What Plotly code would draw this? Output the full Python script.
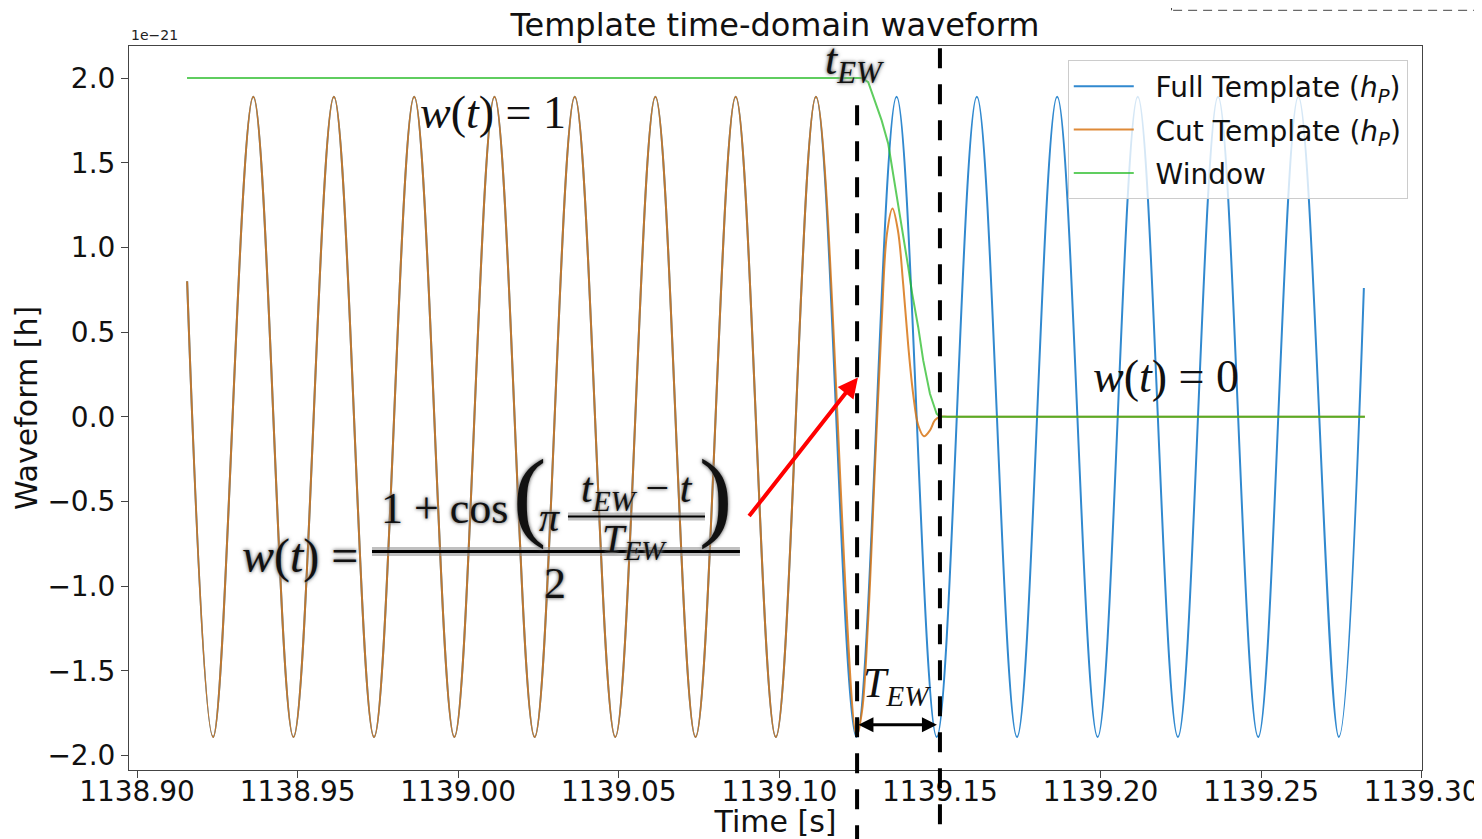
import plotly.graph_objects as go

# ---------------- data (values in units of 1e-21) ----------------
full_t = [1138.9156, 1138.9237, 1138.9362, 1138.9487, 1138.9613, 1138.9738, 1138.9863,
          1138.9988, 1139.0113, 1139.0238, 1139.0363, 1139.0489, 1139.0614, 1139.0739,
          1139.0864, 1139.0989, 1139.1114, 1139.1240, 1139.1365, 1139.1490, 1139.1615,
          1139.1740, 1139.1865, 1139.1991, 1139.2116, 1139.2241, 1139.2366, 1139.2491,
          1139.2616, 1139.2742, 1139.2820]
full_h = [0.80, -1.89, 1.89, -1.89, 1.89, -1.89, 1.89, -1.89, 1.89, -1.89, 1.89, -1.89,
          1.89, -1.89, 1.89, -1.89, 1.89, -1.89, 1.89, -1.89, 1.89, -1.89, 1.89, -1.89,
          1.89, -1.89, 1.89, -1.89, 1.89, -1.89, 0.76]

cut_t = [1138.9156, 1138.9237, 1138.9362, 1138.9487, 1138.9613, 1138.9738, 1138.9863,
         1138.9988, 1139.0113, 1139.0238, 1139.0363, 1139.0489, 1139.0614, 1139.0739,
         1139.0864, 1139.0989, 1139.1114, 1139.1240,
         1139.12572, 1139.12768, 1139.12976, 1139.13185, 1139.13350, 1139.13521,
         1139.13692, 1139.13857, 1139.14013, 1139.14169, 1139.14324, 1139.14502,
         1139.14689, 1139.14844, 1139.15000, 1139.15311, 1139.28232]
cut_h = [0.80, -1.89, 1.89, -1.89, 1.89, -1.89, 1.89, -1.89, 1.89, -1.89, 1.89, -1.89,
         1.89, -1.89, 1.89, -1.89, 1.89, -1.88,
         -1.74, -1.19, -0.30, 0.55, 1.08, 1.23,
         1.10, 0.78, 0.42, 0.13, -0.05, -0.115,
         -0.08, -0.02, 0.0, 0.0, 0.0]

win_t = [1138.91557, 1139.12572, 1139.12768, 1139.12976, 1139.13185, 1139.13390,
         1139.13599, 1139.13808, 1139.14013, 1139.14137, 1139.14324, 1139.14480,
         1139.14689, 1139.14897, 1139.15000, 1139.28232]
win_v = [2.0, 2.0, 1.976, 1.868, 1.750, 1.612, 1.376, 1.120, 0.884, 0.726, 0.529,
         0.333, 0.136, 0.018, 0.0, 0.0]

t_ew = 1139.1242      # dashed marker (start of window)
t_end = 1139.1500     # dashed marker (end of window)

x_ticks = [1138.90, 1138.95, 1139.00, 1139.05, 1139.10, 1139.15, 1139.20, 1139.25, 1139.30]
x_tick_text = ["1138.90", "1138.95", "1139.00", "1139.05", "1139.10", "1139.15",
               "1139.20", "1139.25", "1139.30"]
y_ticks = [-2.0, -1.5, -1.0, -0.5, 0.0, 0.5, 1.0, 1.5, 2.0]
y_tick_text = ["\u22122.0", "\u22121.5", "\u22121.0", "\u22120.5", "0.0", "0.5", "1.0", "1.5", "2.0"]

# ---------------- figure ----------------
SANS = "DejaVu Sans"
SERIF = "Liberation Serif"
GLOW = "0px 0px 4px #7a7a7a, 0px 0px 3px #9a9a9a"
GAP = "\u2002\u200a"

fig = go.Figure()
fig.add_trace(go.Scatter(x=full_t, y=full_h, mode="lines", line=dict(color="#3189cf", width=2, shape="spline"),
                         name=GAP + "Full Template (<i>h</i><sub><i>P</i></sub>)", legendgroup="a", hoverinfo="skip"))
fig.add_trace(go.Scatter(x=cut_t, y=cut_h, mode="lines", line=dict(color="#d87412", width=2, shape="spline"),
                         opacity=0.84,
                         name=GAP + "Cut Template (<i>h</i><sub><i>P</i></sub>)", legendgroup="b", hoverinfo="skip"))
fig.add_trace(go.Scatter(x=win_t, y=win_v, mode="lines", line=dict(color="#22bb22", width=2, shape="linear"),
                         opacity=0.72, name=GAP + "Window", legendgroup="c", hoverinfo="skip"))

shapes = []
# dashed black vertical markers extending below the axes
shapes.append(dict(type="line", xref="x", yref="paper", x0=t_ew, x1=t_ew, y0=0.918, y1=-0.10,
                   line=dict(color="black", width=4, dash="20px,16px"), layer="above"))
shapes.append(dict(type="line", xref="x", yref="paper", x0=t_end, x1=t_end, y0=0.997, y1=-0.10,
                   line=dict(color="black", width=4, dash="20px,16px"), layer="above"))
# fraction bars of the formula (glow then black)
for (xa, xb, yv, w) in [(1138.97316, 1139.08773, -0.7956, 3), (1139.03418, 1139.07684, -0.5889, 2)]:
    shapes.append(dict(type="line", xref="x", yref="y", x0=xa, x1=xb, y0=yv, y1=yv,
                       line=dict(color="rgba(140,140,140,0.55)", width=w + 6), layer="above"))
    shapes.append(dict(type="line", xref="x", yref="y", x0=xa, x1=xb, y0=yv, y1=yv,
                       line=dict(color="black", width=w), layer="above"))
# partial dashed box at top-right corner of the figure
shapes.append(dict(type="line", xref="paper", yref="paper", x0=0.8075, x1=1.05, y0=1.0493, y1=1.0493,
                   line=dict(color="#444", width=1, dash="9px,6px")))
shapes.append(dict(type="line", xref="paper", yref="paper", x0=0.8063, x1=0.8063, y0=1.0493, y1=1.07,
                   line=dict(color="#444", width=1)))

def txt(x, y, text, size, family=SERIF, glow=True):
    return dict(x=x, y=y, xref="x", yref="y", text=text, showarrow=False,
                xanchor="center", yanchor="middle",
                font=dict(family=family, size=size, color="#111",
                          shadow=GLOW if glow else "none"))

ann = []
ann.append(txt(1139.12354, 2.093, "<i>t</i><sub><i>EW</i></sub>", 44))
ann.append(txt(1139.01099, 1.797, "<i>w</i>(<i>t</i>) = 1", 46, glow=False))
ann.append(txt(1139.22036, 0.236, "<i>w</i>(<i>t</i>) = 0", 46, glow=False))
ann.append(txt(1138.95075, -0.8193, "<i>w</i>(<i>t</i>) =", 48))
ann.append(txt(1138.99589, -0.5423, "1 + cos", 44))
ann.append(txt(1139.02235, -0.46, "(", 100))
ann.append(txt(1139.02858, -0.5948, "<i>π</i>", 40))
ann.append(txt(1139.05567, -0.4353, "<i>t</i><sub><i>EW</i></sub> − <i>t</i>", 42))
ann.append(txt(1139.05504, -0.7307, "<i>T</i><sub><i>EW</i></sub>", 40))
ann.append(txt(1139.08026, -0.46, ")", 100))
ann.append(txt(1139.03014, -0.9846, "2", 44))
ann.append(txt(1139.13661, -1.587, "<i>T</i><sub><i>EW</i></sub>", 42, glow=False))
# red arrow pointing at t_EW
ann.append(dict(x=1139.12447, y=0.232, ax=1139.09022, ay=-0.5948, axref="x", ayref="y",
                xref="x", yref="y", text="", showarrow=True, arrowhead=2, arrowsize=1,
                arrowwidth=4, arrowcolor="#ff0000"))
# double arrow for T_EW
ann.append(dict(x=1139.14907, y=-1.8175, ax=1139.12416, ay=-1.8175, axref="x", ayref="y",
                xref="x", yref="y", text="", showarrow=True, arrowhead=2, startarrowhead=2,
                arrowside="end+start", arrowsize=1, startarrowsize=1, arrowwidth=3, arrowcolor="black"))
# offset text
ann.append(dict(x=0.0, y=1.0, xref="paper", yref="paper", text="1e\u221221", showarrow=False,
                xanchor="left", yanchor="bottom", yshift=1, font=dict(family=SANS, size=14, color="#222")))

fig.update_layout(
    width=1474, height=831,
    margin=dict(l=121, r=60, t=38, b=69, autoexpand=False),
    paper_bgcolor="white", plot_bgcolor="white",
    font=dict(family=SANS, size=27, color="#111"),
    title=dict(text="Template time-domain waveform", x=0.5203, xanchor="center",
               y=0.9795, yanchor="middle", font=dict(family=SANS, size=32, color="#111")),
    shapes=shapes, annotations=ann,
    showlegend=True,
    legend=dict(x=0.989, y=0.980, xanchor="right", yanchor="top",
                bgcolor="rgba(255,255,255,0.8)", bordercolor="#cccccc", borderwidth=1,
                font=dict(family=SANS, size=28, color="#111"), tracegroupgap=4,
                itemwidth=60, traceorder="grouped"),
    xaxis=dict(range=[1138.8975, 1139.3001], tickvals=x_ticks, ticktext=x_tick_text,
               ticks="outside", ticklen=7, tickcolor="#444", showline=True, linecolor="#444",
               linewidth=1, mirror=True, showgrid=False, zeroline=False, automargin=False,
               ticklabelstandoff=-11,
               tickfont=dict(family=SANS, size=28, color="#111"),
               title=dict(text="Time [s]", standoff=9, font=dict(family=SANS, size=30, color="#111"))),
    yaxis=dict(range=[-2.085, 2.189], tickvals=y_ticks, ticktext=y_tick_text,
               ticks="outside", ticklen=7, tickcolor="#444", showline=True, linecolor="#444",
               linewidth=1, mirror=True, showgrid=False, zeroline=False, automargin=False,
               tickfont=dict(family=SANS, size=28, color="#111"),
               title=dict(text="Waveform [h]", standoff=0, font=dict(family=SANS, size=30, color="#111"))),
)

fig.write_html("out.html")
